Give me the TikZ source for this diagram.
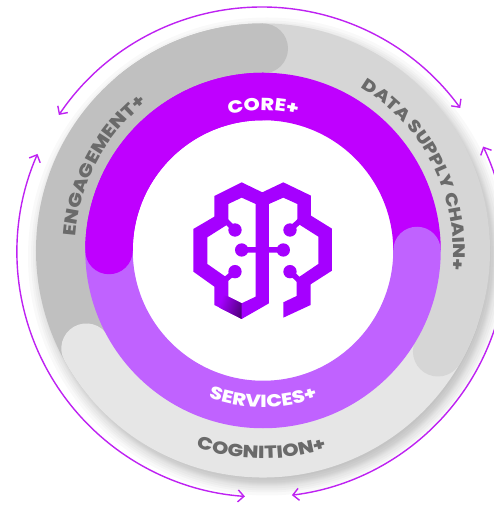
\documentclass[tikz,border=0pt]{standalone}
\usepackage{fontspec}
\setmainfont{Poppins}
\newfontfamily\labfam{Poppins}[FakeStretch=1.18,UprightFont=* ExtraBold]
\usetikzlibrary{arrows.meta,decorations.text,calc}
\definecolor{core}{HTML}{BF00FF}
\definecolor{serv}{HTML}{C062FF}
\definecolor{logo}{HTML}{A500FF}
\definecolor{arrowc}{HTML}{BE22F2}
\definecolor{eng}{HTML}{C0C0C0}
\definecolor{data}{HTML}{D6D6D6}
\definecolor{cog}{HTML}{E6E6E6}
\definecolor{lab}{HTML}{6A6A6A}
\newcommand{\labfont}{\fontsize{17.5}{17.5}\labfam}
\newcommand{\labfontsmall}{\fontsize{16.7}{16.7}\labfam}
\tikzset{
  x=1pt,y=1pt,
  flow/.style={draw=arrowc,line width=1.4pt,{Straight Barb[length=6pt,width=12pt,line width=1.4pt]}-{Straight Barb[length=6pt,width=12pt,line width=1.4pt]}},
  outerband/.style={line width=50pt},
  innerband/.style={line width=47.5pt},
  curvedtext/.style 2 args={decorate,decoration={text along path,text align=center,text color=#1,text={|\labfont|#2}}},
  curvedsmall/.style 2 args={decorate,decoration={text along path,text align=center,text color=#1,text={|\labfontsmall|#2}}}
}
\begin{document}
\begin{tikzpicture}
\useasboundingbox (0,0) rectangle (494,505);
\clip (0,0) rectangle (494,505);
\coordinate (C) at (263,254.5);
\coordinate (A) at (262,253);
% soft shadow, falling to the lower right
\foreach \r in {222,224,226,227,228,229,230,232,234,236,239}
  \fill[black,opacity=.022] ($(C)+(4,-6)$) circle[radius=\r];
% outer ring
\draw[eng,outerband] (C) ++(90:202) arc[start angle=90,end angle=220,radius=202];
\draw[cog,outerband,line cap=round] (C) ++(209:202) arc[start angle=209,end angle=340,radius=202];
\draw[data,outerband] (C) ++(100:202) arc[start angle=100,end angle=-30,radius=202];
\fill[data] (C) ++(-30:202) circle[radius=25];
\draw[eng,outerband,line cap=round] (C) ++(90:202) arc[start angle=90,end angle=130,radius=202];
% inner ring
\fill[white] (C) circle[radius=131];
\draw[core,innerband] (C) ++(0:154) arc[start angle=0,end angle=180,radius=154];
\draw[serv,innerband,line cap=round] (C) ++(180:154) arc[start angle=180,end angle=360,radius=154];
\draw[core,innerband,line cap=round] (C) ++(90:154) arc[start angle=90,end angle=180,radius=154];
% flow arrows
\draw[flow] (A) ++(146:245) arc[start angle=146,end angle=36,radius=245];
\draw[flow] (A) ++(156.4:245) arc[start angle=156.4,end angle=266,radius=245];
\draw[flow] (A) ++(25.5:245) arc[start angle=25.5,end angle=-83,radius=245];
% curved labels
\path[curvedtext={white}{CORE+}] (C) ++(125:140) arc[start angle=125,end angle=55,radius=140];
\path[curvedtext={white}{SERVICES+}] (C) ++(224:157) arc[start angle=224,end angle=316,radius=157];
\path[curvedtext={lab}{COGNITION+}] (C) ++(229.5:208) arc[start angle=229.5,end angle=309.5,radius=208];
\path[curvedtext={lab}{ENGAGEMENT+}] (C) ++(192:188) arc[start angle=192,end angle=112,radius=188];
\path[curvedsmall={lab}{DATA SUPPLY CHAIN+}] (C) ++(80:190) arc[start angle=80,end angle=-27,radius=190];
% brain logo (coordinates in 1/3 px from its local corner)
\begin{scope}[shift={(170,345)},x=0.3333pt,y=-0.3333pt]
  \fill[logo,even odd rule]
    (133,108)--(215,67)--(277,97)--(340,67)--(423,107)--(423,167)--(486,206)--(486,332)--(422,373)--(422,435)--(340,473)--(340,427)--(380,408)--(380,356)--(445,312)--(445,230)--(382,190)--(382,132)--(340,113)--(297,132)--(297,430)--(215,477)--(133,435)--(133,380)--(70,335)--(70,207)--(133,170)--cycle
    (175,132)--(215,113)--(257,132)--(257,410)--(215,430)--(175,410)--(175,356)--(112,312)--(112,232)--(175,192)--cycle;
  \shade[left color=logo,right color=logo!50!black,shading angle=70]
    (148,443)--(160,405)--(175,410)--(215,430)--(215,477)--cycle;
  \draw[logo,line width=5.5pt]
    (195,210)--(165,180)
    (195,335)--(155,368)
    (360,210)--(392,180)
    (360,335)--(395,368)
    (215,270)--(340,270);
  \foreach \px/\py in {195/210,195/335,215/270,340/270,360/210,360/335}
    \fill[logo] (\px,\py) circle[radius=20];
\end{scope}
\end{tikzpicture}
\end{document}
